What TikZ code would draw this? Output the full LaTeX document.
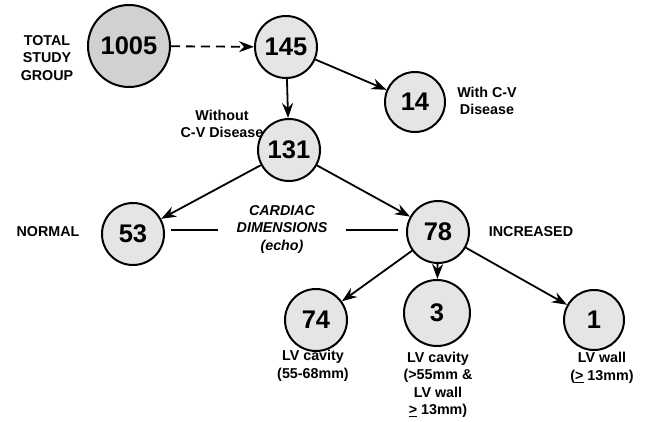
\documentclass[tikz,border=0pt]{standalone}
\usepackage{fontspec}
\setmainfont{Liberation Sans}
\usetikzlibrary{arrows.meta}
\begin{document}
\begin{tikzpicture}[x=1pt,y=-1pt,
  num/.style={circle, draw, line width=2pt, fill=black!10, inner sep=0pt, minimum size=62pt, font=\bfseries\fontsize{25.5}{28}\selectfont},
  lab/.style={align=center, inner sep=0pt, font=\bfseries\fontsize{14.3}{17.5}\selectfont},
  arr/.style={line width=1.8pt, -{Stealth[length=15pt,width=11pt,inset=5pt]}},
  link/.style={line width=1.8pt},
]
\useasboundingbox (0,0) rectangle (654,422);
% circles
\node[num, minimum size=82pt, fill=black!18] (n1005) at (129,46) {1005};
\node[num] (n145) at (286,47) {145};
\node[num, minimum size=60pt] (n14) at (415,102) {14};
\node[num] (n131) at (289,150) {131};
\node[num] (n53) at (133,234) {53};
\node[num] (n78) at (438,232) {78};
\node[num] (n74) at (316,320) {74};
\node[num, minimum size=66pt] (n3) at (437,313) {3};
\node[num, minimum size=60pt] (n1) at (594,320) {1};
% labels
\node[lab] (ltotal) at (47,58) {TOTAL\\STUDY\\GROUP};
\node[lab] (lwith) at (487,101) {With C-V\\Disease};
\node[lab] (lwithout) at (222,124) {Without\\C-V Disease};
\node[lab] (lnormal) at (48,232) {NORMAL};
\node[lab] (lincr) at (531,232) {INCREASED};
\node[lab, font=\bfseries\itshape\fontsize{14.3}{17.5}\selectfont] (lcard) at (282,229) {CARDIAC\\DIMENSIONS\\(echo)};
\node[lab] (l74) at (313,366) {LV cavity\\(55-68mm)};
\node[lab] (l3) at (438,385) {LV cavity\\(\textgreater55mm \&\\LV wall\\\underline{\textgreater} 13mm)};
\node[lab] (l1) at (602,368) {LV wall\\(\underline{\textgreater} 13mm)};
% connectors
\draw[arr, dash pattern=on 9pt off 6pt] (n1005) -- (n145);
\draw[arr] (n145) -- (n131);
\draw[arr] (n145) -- (n14);
\draw[arr] (n131) -- (n53);
\draw[arr] (n131) -- (n78);
\draw[arr] (n78) -- (n74);
\draw[arr] (n78) -- (n3);
\draw[arr] (n78) -- (n1);
\draw[link] ([xshift=6pt]n53.east |- 0,230) coordinate (a1) -- ([xshift=-19pt]lcard.west |- 0,230) coordinate (a2);
\draw[link] ([xshift=19pt]lcard.east |- 0,230) coordinate (b1) -- ([xshift=-8pt]n78.west |- 0,230) coordinate (b2);
\end{tikzpicture}
\end{document}
